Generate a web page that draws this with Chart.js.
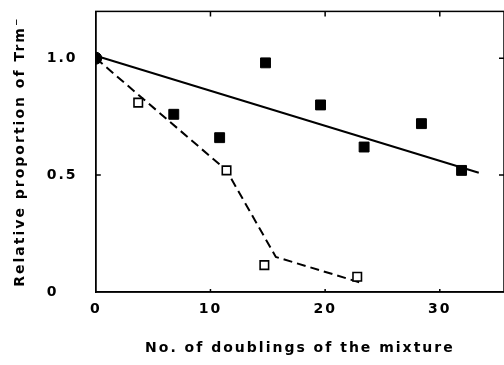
<!DOCTYPE html>
<html>
<head>
<meta charset="utf-8">
<script src="https://cdn.jsdelivr.net/npm/chart.js@4"></script>
<style>
  html, body { margin: 0; padding: 0; background: #fff; overflow: hidden; }
  #wrap { width: 512px; height: 365px; }
</style>
</head>
<body>
<div id="wrap"><canvas id="chart" width="512" height="365"></canvas></div>
<script>
// данные
const filledX = [0, 6.8, 10.8, 14.8, 19.6, 23.4, 28.4, 31.9]
const filledY = [1.0, 0.76, 0.66, 0.98, 0.80, 0.62, 0.72, 0.52]
const openX = [3.7, 11.4, 14.7, 22.8]
const openY = [0.81, 0.52, 0.115, 0.065]
const solidX = [0, 33.4]
const solidY = [1.01, 0.51]
const dashX = [0, 11.4, 15.7, 23.1]
const dashY = [1.0, 0.52, 0.15, 0.04]
const xTicks = [0, 10, 20, 30]
const yTicks = [0, 0.5, 1.0]
const yLabels = ['0', '0.5', '1.0']

const pts = (xs, ys) => xs.map((x, i) => ({ x: x, y: ys[i] }))
const FONT = 'DejaVu Sans'

// межбуквенный интервал для всех подписей
const spacing = {
  id: 'spacing',
  beforeUpdate(chart) { chart.ctx.letterSpacing = '2px' },
  beforeDraw(chart) { chart.ctx.letterSpacing = '2px' },
}

// рамка и внутренние засечки
const frame = {
  id: 'frame',
  afterDraw(chart) {
    const { ctx, chartArea: a, scales } = chart
    ctx.save()
    ctx.strokeStyle = '#000'
    ctx.lineWidth = 1.5
    ctx.strokeRect(a.left, a.top, a.right - a.left, a.bottom - a.top)
    ctx.beginPath()
    xTicks.slice(1).forEach(v => {
      const px = scales.x.getPixelForValue(v)
      ctx.moveTo(px, a.top)
      ctx.lineTo(px, a.top + 5)
      ctx.moveTo(px, a.bottom)
      ctx.lineTo(px, a.bottom - 3)
    })
    yTicks.slice(1).forEach(v => {
      const py = scales.y.getPixelForValue(v)
      ctx.moveTo(a.left, py)
      ctx.lineTo(a.left + 5, py)
      ctx.moveTo(a.right, py)
      ctx.lineTo(a.right - 5, py)
    })
    ctx.stroke()
    ctx.restore()
  },
}

new Chart(document.getElementById('chart'), {
  type: 'scatter',
  data: {
    datasets: [
      {
        data: pts(filledX, filledY),
        pointStyle: filledX.map((x, i) => (i === 0 ? 'circle' : 'rect')),
        pointRadius: filledX.map((x, i) => (i === 0 ? 6 : 7)),
        backgroundColor: '#000',
        borderColor: '#000',
        borderWidth: 1,
        showLine: false,
      },
      {
        data: pts(openX, openY),
        pointStyle: 'rect',
        pointRadius: 6,
        backgroundColor: '#fff',
        borderColor: '#000',
        borderWidth: 1.6,
        showLine: false,
      },
      {
        data: pts(solidX, solidY),
        showLine: true,
        pointRadius: 0,
        borderColor: '#000',
        borderWidth: 2,
      },
      {
        data: pts(dashX, dashY),
        showLine: true,
        pointRadius: 0,
        borderColor: '#000',
        borderWidth: 2,
        borderDash: [9, 5],
      },
    ],
  },
  options: {
    responsive: false,
    animation: false,
    events: [],
    layout: { padding: { left: 0, top: 10, right: 5, bottom: 0 } },
    plugins: {
      legend: { display: false },
      tooltip: { enabled: false },
      title: {
        display: true,
        position: 'left',
        fullSize: false,
        text: 'Relative proportion of Trm\u207B',
        color: '#000',
        font: { family: FONT, size: 14, weight: 'bold' },
        padding: { top: 12, bottom: 18 },
      },
    },
    scales: {
      x: {
        type: 'linear',
        min: 0,
        max: 35.6,
        afterBuildTicks: s => { s.ticks = xTicks.map(v => ({ value: v })) },
        afterFit: s => { s.height = 73 },
        grid: { display: false, drawTicks: false },
        border: { display: true, color: '#000', width: 1.5 },
        ticks: {
          color: '#000',
          padding: 9,
          maxRotation: 0,
          font: { family: FONT, size: 14, weight: 'bold' },
        },
        title: {
          display: true,
          text: 'No. of doublings of the mixture',
          color: '#000',
          font: { family: FONT, size: 14, weight: 'bold' },
          padding: { top: 0, bottom: 8 },
        },
      },
      y: {
        type: 'linear',
        min: 0,
        max: 1.2,
        afterBuildTicks: s => { s.ticks = yTicks.map(v => ({ value: v })) },
        afterFit: s => { s.width = 49 },
        grid: { display: false, drawTicks: false },
        border: { display: true, color: '#000', width: 1.5 },
        ticks: {
          color: '#000',
          crossAlign: 'far',
          font: { family: FONT, size: 14, weight: 'bold' },
          callback: (v, i) => yLabels[i],
        },
      },
    },
  },
  plugins: [spacing, frame],
})
</script>
</body>
</html>
